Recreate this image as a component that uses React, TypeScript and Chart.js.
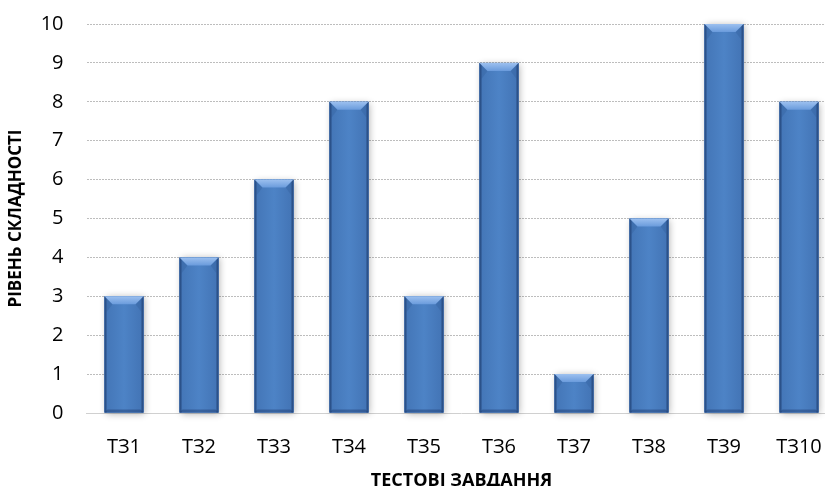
import React, { useEffect, useRef } from "react";
import { Chart, registerables } from "chart.js";

Chart.register(...registerables);

const categories = ["ТЗ1", "ТЗ2", "ТЗ3", "ТЗ4", "ТЗ5", "ТЗ6", "ТЗ7", "ТЗ8", "ТЗ9", "ТЗ10"];
const values = [3, 4, 6, 8, 3, 9, 1, 5, 10, 8];
const yTicks = [0, 1, 2, 3, 4, 5, 6, 7, 8, 9, 10];
const xTitle = "ТЕСТОВІ ЗАВДАННЯ";
const yTitle = "РІВЕНЬ СКЛАДНОСТІ";

const FONT = "'Open Sans', 'Liberation Sans', sans-serif";

const bevelPlugin = {
  id: "bevel",
  beforeDatasetsDraw(chart: any) {
    const ctx = chart.ctx;
    const meta = chart.getDatasetMeta(0);
    ctx.save();
    meta.data.forEach((bar: any) => {
      const w = bar.width;
      const l = bar.x - w / 2;
      const t = bar.y;
      const h = bar.base - bar.y;
      ctx.shadowColor = "rgba(0,0,0,0.3)";
      ctx.shadowBlur = 7;
      ctx.shadowOffsetX = 1;
      ctx.shadowOffsetY = 1;
      ctx.fillStyle = "#4a7ec2";
      ctx.fillRect(l, t, w, h);
    });
    ctx.restore();
  },
  afterDatasetsDraw(chart: any) {
    const ctx = chart.ctx;
    const meta = chart.getDatasetMeta(0);
    ctx.save();
    meta.data.forEach((bar: any) => {
      const w = bar.width;
      const l = bar.x - w / 2;
      const r = bar.x + w / 2;
      const t = bar.y;
      const b = bar.base;
      const bv = 8;
      const sv = 2;
      const g = ctx.createLinearGradient(l, 0, r, 0);
      g.addColorStop(0, "#4375b6");
      g.addColorStop(0.5, "#4d83c6");
      g.addColorStop(1, "#4273b4");
      ctx.fillStyle = g;
      ctx.fillRect(l, t, w, b - t);
      ctx.fillStyle = "rgba(35,70,125,0.18)";
      ctx.beginPath();
      ctx.moveTo(l, t);
      ctx.lineTo(l + bv, t + bv);
      ctx.lineTo(l + sv, t + bv * 2);
      ctx.lineTo(l + sv, b);
      ctx.lineTo(l, b);
      ctx.closePath();
      ctx.fill();
      ctx.beginPath();
      ctx.moveTo(r, t);
      ctx.lineTo(r - bv, t + bv);
      ctx.lineTo(r - sv, t + bv * 2);
      ctx.lineTo(r - sv, b);
      ctx.lineTo(r, b);
      ctx.closePath();
      ctx.fill();
      ctx.fillStyle = "rgba(30,60,110,0.55)";
      ctx.fillRect(l, t, sv, b - t);
      ctx.fillRect(r - sv, t, sv, b - t);
      ctx.fillStyle = "rgba(30,60,110,0.45)";
      ctx.beginPath();
      ctx.moveTo(l, b);
      ctx.lineTo(l + 3, b - 3);
      ctx.lineTo(r - 3, b - 3);
      ctx.lineTo(r, b);
      ctx.closePath();
      ctx.fill();
      const gt = ctx.createLinearGradient(0, t, 0, t + bv);
      gt.addColorStop(0, "#9cc0ef");
      gt.addColorStop(1, "#6a9bdc");
      ctx.fillStyle = gt;
      ctx.beginPath();
      ctx.moveTo(l, t);
      ctx.lineTo(r, t);
      ctx.lineTo(r - bv, t + bv);
      ctx.lineTo(l + bv, t + bv);
      ctx.closePath();
      ctx.fill();
    });
    ctx.restore();
  },
};

export default function App() {
  const ref = useRef<HTMLCanvasElement>(null);
  useEffect(() => {
    if (!ref.current) return;
    const chart = new Chart(ref.current, {
      type: "bar",
      data: {
        labels: categories,
        datasets: [
          {
            data: values,
            backgroundColor: "#4a7ec2",
            borderWidth: 0,
            categoryPercentage: 1,
            barPercentage: 0.52,
          },
        ],
      },
      options: {
        animation: false,
        responsive: false,
        maintainAspectRatio: false,
        layout: { padding: { left: 0, right: 3.5, top: 24, bottom: 0 } },
        plugins: { legend: { display: false }, tooltip: { enabled: false } },
        scales: {
          x: {
            grid: { display: false, drawTicks: false },
            border: { display: true, color: "#d0d0d0", width: 1 },
            ticks: { color: "#000", font: { family: FONT, size: 20 }, padding: 22, maxRotation: 0 },
            afterFit: (axis: any) => {
              axis.height = 79;
              axis.paddingLeft = 0;
              axis.paddingRight = 0;
            },
            title: {
              display: true,
              text: xTitle,
              color: "#000",
              font: { family: FONT, size: 18, weight: "bold" },
              padding: { top: 4, bottom: 0 },
            },
          },
          y: {
            min: 0,
            max: 10,
            afterBuildTicks: (axis: any) => {
              axis.ticks = yTicks.map((v) => ({ value: v }));
            },
            afterFit: (axis: any) => {
              axis.width = 86.5;
              axis.paddingTop = 0;
              axis.paddingBottom = 0;
            },
            grid: {
              color: "#bdbdbd",
              lineWidth: 1,
              drawTicks: false,
            },
            border: { display: false, dash: [2, 1] },
            ticks: { color: "#000", font: { family: FONT, size: 20 }, padding: 23 },
            title: {
              display: true,
              text: yTitle,
              color: "#000",
              font: { family: FONT, size: 17, weight: "bold" },
              padding: { top: 6, bottom: 0 },
            },
          },
        },
      },
      plugins: [bevelPlugin],
    });
    return () => chart.destroy();
  }, []);
  return (
    <div style={{ position: "fixed", left: 0, top: 0, width: 825, height: 486, background: "#fff", overflow: "hidden" }}>
      <canvas ref={ref} width={840} height={492} style={{ display: "block" }} />
    </div>
  );
}
